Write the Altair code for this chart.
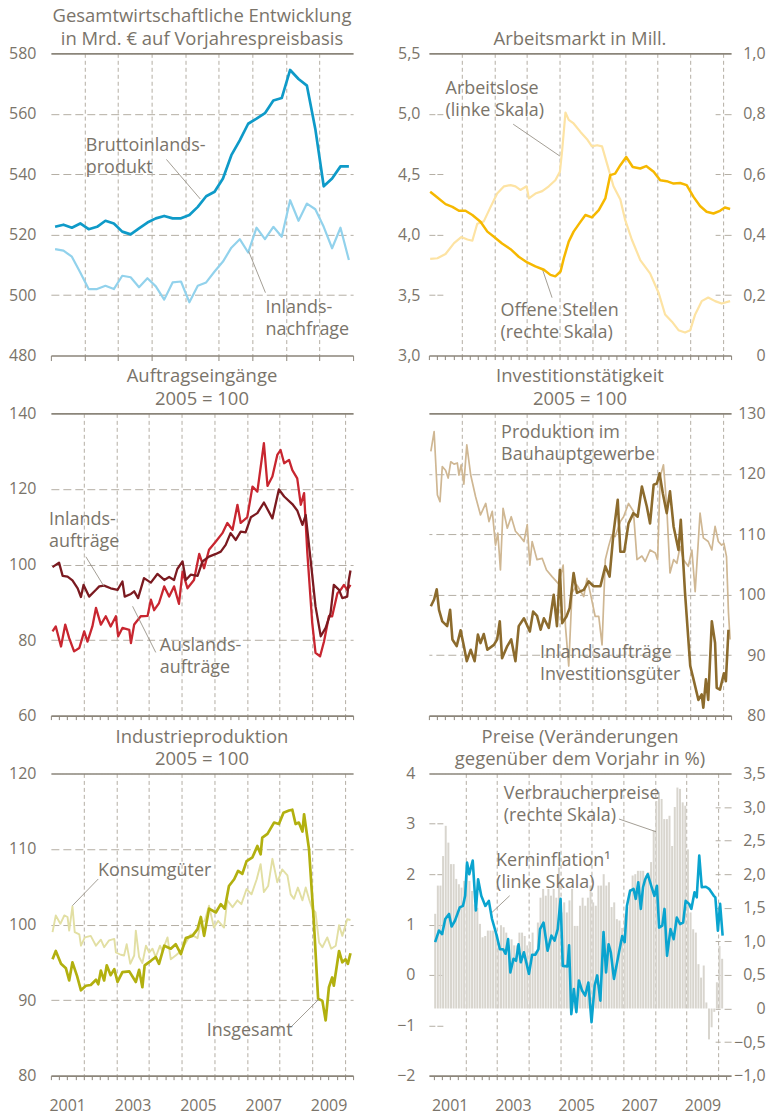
import altair as alt
import pandas as pd

FONT = "Open Sans"
TXT = "#7a746a"
AXC = "#8b857a"
GRIDC = "#b4aea4"
LEAD = "#8b857a"
W, H = 303, 303

C_BIP, C_NF = "#0e9ac8", "#92d2ec"
C_AL, C_OS = "#fde3a3", "#f6b800"
C_IN, C_AUS = "#7b1a20", "#c82630"
C_BAU, C_INV = "#cfb793", "#8c6b2d"
C_INS, C_KON = "#b2b00f", "#e2dfa3"
C_BAR, C_KI = "#d8d5ce", "#0aa4cf"

# ---------------- data ----------------
# Panel 1: quarterly, Mrd. EUR
bip = [522.6, 523.3, 522.3, 523.7, 521.8, 522.6, 524.6, 523.7, 521.0, 520.1,
       522.1, 524.0, 525.4, 526.2, 525.4, 525.4, 526.5, 529.2, 532.7, 534.2,
       538.6, 546.3, 551.2, 556.7, 558.4, 560.2, 564.4, 565.2, 574.5, 571.5,
       569.3, 555.0, 536.0, 538.6, 542.6, 542.6]
nachfrage = [515.2, 514.7, 512.7, 507.5, 502.0, 502.0, 503.1, 502.0, 506.4, 505.9,
             502.6, 505.6, 502.9, 498.5, 504.2, 504.5, 497.6, 503.1, 504.2, 507.8,
             511.1, 515.7, 518.5, 514.1, 522.3, 518.5, 522.6, 519.3, 531.4, 524.6,
             530.3, 528.4, 522.6, 515.5, 522.3, 511.6]
quarters = [2001.125 + 0.25 * i for i in range(36)]

# Panel 2: Arbeitsmarkt
al_t = [2001.04, 2001.26, 2001.51, 2001.77, 2001.99, 2002.18, 2002.33, 2002.48, 2002.68, 2002.89,
        2003.09, 2003.30, 2003.50, 2003.65, 2003.80, 2003.99, 2004.06, 2004.26, 2004.47, 2004.67,
        2004.87, 2005.01, 2005.08, 2005.18, 2005.28, 2005.43, 2005.64, 2005.84, 2005.99, 2006.15,
        2006.30, 2006.45, 2006.65, 2006.86, 2007.01, 2007.21, 2007.47, 2007.77, 2008.03, 2008.23,
        2008.44, 2008.64, 2008.84, 2009.00, 2009.15, 2009.35, 2009.55, 2009.76, 2009.96, 2010.22]
al_v = [3.80, 3.805, 3.84, 3.93, 3.98, 3.96, 3.95, 4.09, 4.11, 4.23,
        4.34, 4.40, 4.41, 4.40, 4.37, 4.40, 4.30, 4.34, 4.36, 4.40,
        4.45, 4.52, 4.70, 5.01, 4.95, 4.92, 4.85, 4.79, 4.73, 4.74,
        4.73, 4.59, 4.40, 4.29, 4.12, 3.96, 3.79, 3.68, 3.52, 3.34,
        3.28, 3.21, 3.19, 3.21, 3.34, 3.45, 3.48, 3.45, 3.43, 3.45]
os_t = [2001.04, 2001.26, 2001.51, 2001.72, 2001.92, 2002.12, 2002.33, 2002.58, 2002.79, 2002.99,
        2003.24, 2003.50, 2003.75, 2004.01, 2004.26, 2004.52, 2004.72, 2004.87, 2005.03, 2005.13,
        2005.28, 2005.43, 2005.59, 2005.79, 2005.99, 2006.20, 2006.40, 2006.55, 2006.70, 2006.86,
        2007.04, 2007.24, 2007.47, 2007.65, 2007.88, 2008.08, 2008.28, 2008.49, 2008.69, 2008.89,
        2009.10, 2009.30, 2009.50, 2009.71, 2009.91, 2010.06, 2010.22]
os_v = [0.542, 0.523, 0.501, 0.492, 0.479, 0.479, 0.465, 0.443, 0.410, 0.393,
        0.371, 0.352, 0.327, 0.308, 0.295, 0.284, 0.267, 0.262, 0.278, 0.322,
        0.377, 0.410, 0.435, 0.465, 0.457, 0.481, 0.520, 0.597, 0.602, 0.630,
        0.657, 0.624, 0.619, 0.627, 0.608, 0.580, 0.577, 0.569, 0.571, 0.564,
        0.525, 0.495, 0.476, 0.470, 0.479, 0.490, 0.485]

# Panel 3: Auftragseingaenge
inl_t = [2001.05, 2001.25, 2001.36, 2001.51, 2001.66, 2001.82, 2001.92, 2002.00, 2002.17, 2002.38,
         2002.48, 2002.63, 2002.83, 2003.04, 2003.19, 2003.26, 2003.45, 2003.55, 2003.67, 2003.85,
         2004.06, 2004.26, 2004.47, 2004.62, 2004.77, 2004.87, 2005.03, 2005.13, 2005.28, 2005.49,
         2005.64, 2005.84, 2006.05, 2006.20, 2006.35, 2006.50, 2006.66, 2006.81, 2006.96, 2007.12,
         2007.32, 2007.52, 2007.78, 2007.98, 2008.14, 2008.39, 2008.54, 2008.70, 2008.80, 2008.95,
         2009.10, 2009.26, 2009.41, 2009.56, 2009.66, 2009.82, 2009.92, 2010.07, 2010.12, 2010.17]
inl_v = [99.3, 100.5, 97.0, 96.8, 95.8, 93.7, 91.4, 94.6, 91.5, 93.3,
         94.2, 94.4, 93.7, 93.3, 95.5, 91.5, 92.2, 92.9, 91.1, 96.4,
         95.2, 97.5, 95.9, 96.7, 95.9, 98.8, 100.8, 95.9, 97.3, 97.0,
         100.8, 102.1, 102.8, 103.4, 105.2, 108.3, 106.5, 108.7, 108.5, 112.5,
         113.6, 116.4, 112.2, 119.9, 118.0, 116.0, 114.3, 110.5, 113.1, 101.2,
         88.9, 81.0, 83.2, 87.1, 94.6, 93.3, 91.1, 91.5, 95.9, 98.4]
aus_t = [2001.05, 2001.15, 2001.31, 2001.44, 2001.56, 2001.71, 2001.87, 2002.02, 2002.12, 2002.27,
         2002.38, 2002.53, 2002.68, 2002.83, 2002.99, 2003.06, 2003.19, 2003.40, 2003.45, 2003.55,
         2003.75, 2003.96, 2004.06, 2004.16, 2004.31, 2004.47, 2004.62, 2004.77, 2004.92, 2005.03,
         2005.18, 2005.38, 2005.54, 2005.69, 2005.84, 2006.05, 2006.25, 2006.40, 2006.56, 2006.71,
         2006.81, 2007.01, 2007.17, 2007.32, 2007.52, 2007.63, 2007.78, 2007.93, 2008.03, 2008.14,
         2008.29, 2008.39, 2008.54, 2008.65, 2008.75, 2008.85, 2009.00, 2009.10, 2009.24, 2009.36,
         2009.51, 2009.61, 2009.77, 2009.87, 2009.97, 2010.07, 2010.17]
aus_v = [82.3, 83.6, 78.3, 84.1, 80.5, 77.0, 77.9, 82.3, 79.6, 83.6,
         88.5, 84.1, 86.3, 83.6, 86.3, 81.0, 83.2, 82.7, 79.2, 84.1,
         86.3, 86.4, 90.7, 87.9, 89.8, 94.2, 91.5, 94.2, 89.6, 98.1,
         93.7, 95.9, 102.8, 99.0, 103.9, 106.1, 108.3, 111.0, 109.2, 115.8,
         111.0, 112.5, 120.6, 119.3, 132.1, 120.8, 123.3, 129.0, 130.3, 126.8,
         127.7, 125.0, 122.8, 115.8, 118.9, 103.0, 84.5, 76.6, 75.7, 79.6,
         86.3, 86.3, 92.4, 93.3, 94.6, 93.3, 94.6]

# Panel 4: Investitionstaetigkeit
bau_t = [2001.06, 2001.16, 2001.26, 2001.34, 2001.41, 2001.51, 2001.59, 2001.67, 2001.77, 2001.87,
         2001.92, 2001.99, 2002.07, 2002.16, 2002.28, 2002.43, 2002.58, 2002.74, 2002.84, 2002.94,
         2003.04, 2003.11, 2003.19, 2003.27, 2003.40, 2003.52, 2003.65, 2003.80, 2003.91, 2004.01,
         2004.09, 2004.16, 2004.31, 2004.47, 2004.60, 2004.77, 2004.97, 2005.11, 2005.18, 2005.28,
         2005.38, 2005.53, 2005.74, 2005.84, 2005.94, 2006.09, 2006.20, 2006.30, 2006.40, 2006.50,
         2006.60, 2006.70, 2006.86, 2006.96, 2007.11, 2007.26, 2007.37, 2007.52, 2007.62, 2007.77,
         2007.93, 2008.00, 2008.08, 2008.18, 2008.28, 2008.38, 2008.49, 2008.59, 2008.69, 2008.79,
         2008.94, 2009.05, 2009.15, 2009.30, 2009.40, 2009.55, 2009.66, 2009.76, 2009.86, 2009.96,
         2010.03, 2010.11, 2010.17, 2010.22]
bau_v = [123.7, 127.0, 116.5, 115.4, 121.2, 120.6, 119.3, 122.0, 121.6, 121.8,
         119.8, 121.5, 118.3, 124.8, 119.8, 116.2, 113.2, 115.1, 112.1, 113.8,
         108.2, 110.2, 104.1, 114.3, 111.0, 112.9, 110.5, 109.6, 108.8, 111.6,
         104.9, 108.8, 105.8, 106.0, 104.1, 103.0, 101.8, 104.9, 94.8, 88.2,
         100.3, 101.6, 99.7, 102.7, 100.3, 96.4, 96.4, 91.7, 105.8, 108.0,
         109.9, 109.6, 112.1, 112.9, 115.1, 113.8, 105.8, 106.4, 105.5, 107.4,
         106.9, 105.8, 119.5, 121.5, 114.6, 103.6, 105.8, 105.2, 108.0, 105.8,
         104.7, 107.4, 100.5, 113.5, 109.4, 108.8, 107.4, 111.3, 108.8, 108.2,
         108.5, 106.3, 97.0, 92.6]
inv_t = [2001.06, 2001.16, 2001.24, 2001.31, 2001.41, 2001.56, 2001.65, 2001.72, 2001.85, 2001.97,
         2002.07, 2002.16, 2002.28, 2002.40, 2002.50, 2002.58, 2002.68, 2002.79, 2002.99, 2003.09,
         2003.17, 2003.24, 2003.40, 2003.52, 2003.65, 2003.75, 2003.91, 2004.09, 2004.19, 2004.31,
         2004.42, 2004.52, 2004.67, 2004.82, 2004.92, 2005.01, 2005.08, 2005.21, 2005.31, 2005.43,
         2005.53, 2005.74, 2005.89, 2006.04, 2006.25, 2006.40, 2006.53, 2006.65, 2006.78, 2006.86,
         2006.98, 2007.11, 2007.26, 2007.39, 2007.52, 2007.67, 2007.77, 2007.88, 2007.98, 2008.06,
         2008.16, 2008.28, 2008.38, 2008.49, 2008.64, 2008.71, 2008.84, 2009.00, 2009.10, 2009.25,
         2009.35, 2009.40, 2009.48, 2009.55, 2009.66, 2009.76, 2009.81, 2009.91, 2010.03, 2010.09,
         2010.17]
inv_v = [98.1, 99.2, 100.9, 97.5, 95.6, 94.8, 97.5, 92.6, 91.5, 94.1,
         91.5, 89.0, 90.9, 89.0, 93.4, 92.0, 93.5, 90.9, 91.7, 92.6,
         95.6, 89.5, 91.5, 92.6, 89.0, 94.8, 96.1, 93.9, 97.2, 96.5,
         94.2, 96.1, 94.5, 100.0, 94.8, 104.1, 95.3, 96.4, 97.8, 103.6,
         100.3, 100.8, 102.2, 101.4, 101.4, 104.7, 103.0, 110.2, 115.7, 107.1,
         107.1, 111.8, 113.5, 112.9, 117.9, 114.6, 111.8, 118.2, 118.4, 120.1,
         116.8, 113.5, 117.1, 111.3, 107.4, 112.4, 100.3, 88.2, 86.0, 82.6,
         83.5, 81.3, 86.0, 82.6, 95.6, 92.0, 84.6, 84.3, 87.0, 85.7,
         94.2]

# Panel 5: Industrieproduktion
ins_t = [2001.05, 2001.15, 2001.31, 2001.46, 2001.56, 2001.66, 2001.80, 2001.92, 2002.07, 2002.22,
         2002.38, 2002.45, 2002.53, 2002.63, 2002.71, 2002.83, 2002.94, 2003.04, 2003.19, 2003.40,
         2003.60, 2003.70, 2003.80, 2003.87, 2004.06, 2004.21, 2004.31, 2004.47, 2004.67, 2004.82,
         2004.98, 2005.13, 2005.33, 2005.49, 2005.59, 2005.69, 2005.84, 2006.05, 2006.20, 2006.32,
         2006.45, 2006.61, 2006.73, 2006.86, 2006.99, 2007.17, 2007.32, 2007.42, 2007.47, 2007.63,
         2007.83, 2007.98, 2008.12, 2008.29, 2008.39, 2008.49, 2008.59, 2008.70, 2008.75, 2008.90,
         2009.05, 2009.18, 2009.31, 2009.41, 2009.51, 2009.61, 2009.66, 2009.82, 2009.92, 2010.02,
         2010.09, 2010.17]
ins_v = [95.4, 96.5, 94.8, 94.2, 92.6, 95.0, 93.2, 91.3, 91.9, 92.0,
         92.7, 92.1, 93.9, 92.6, 94.6, 93.3, 94.1, 92.4, 93.7, 93.8,
         92.4, 94.0, 91.7, 94.6, 95.2, 95.7, 94.8, 97.2, 96.8, 97.4,
         96.1, 98.2, 98.5, 99.4, 101.0, 98.5, 102.1, 101.6, 102.7, 102.1,
         105.1, 106.0, 107.1, 106.7, 108.4, 108.9, 110.4, 109.3, 111.5, 112.0,
         113.5, 113.3, 114.8, 115.1, 115.2, 113.3, 113.5, 112.3, 114.6, 110.0,
         100.3, 90.2, 89.9, 87.3, 91.7, 93.0, 91.9, 96.5, 95.0, 95.4,
         94.8, 96.2]
kon_t = [2001.05, 2001.15, 2001.29, 2001.41, 2001.51, 2001.56, 2001.66, 2001.73, 2001.87, 2001.92,
         2002.04, 2002.22, 2002.38, 2002.53, 2002.63, 2002.78, 2002.94, 2002.99, 2003.14, 2003.24,
         2003.32, 2003.43, 2003.55, 2003.60, 2003.70, 2003.80, 2003.91, 2004.01, 2004.11, 2004.21,
         2004.34, 2004.41, 2004.57, 2004.67, 2004.82, 2004.98, 2005.13, 2005.28, 2005.49, 2005.59,
         2005.71, 2005.84, 2005.99, 2006.12, 2006.30, 2006.40, 2006.56, 2006.71, 2006.83, 2006.99,
         2007.14, 2007.30, 2007.42, 2007.52, 2007.65, 2007.78, 2007.93, 2008.08, 2008.24, 2008.34,
         2008.44, 2008.56, 2008.70, 2008.80, 2008.90, 2009.00, 2009.10, 2009.21, 2009.31, 2009.46,
         2009.58, 2009.72, 2009.82, 2009.92, 2010.07, 2010.17]
kon_v = [99.0, 101.2, 100.1, 101.2, 101.0, 99.2, 102.4, 99.0, 98.7, 97.2,
         98.3, 98.5, 97.2, 98.0, 97.0, 97.9, 98.1, 96.3, 96.0, 95.9,
         97.4, 94.8, 95.9, 99.2, 95.7, 94.9, 97.2, 96.3, 96.8, 95.7,
         97.2, 96.5, 98.3, 95.4, 95.9, 96.5, 97.6, 98.7, 98.2, 100.3,
         100.5, 102.5, 99.6, 100.5, 99.6, 103.2, 102.3, 103.2, 102.7, 104.7,
         104.0, 106.0, 108.0, 104.3, 105.1, 108.7, 105.6, 107.3, 106.5, 104.0,
         103.4, 104.9, 103.2, 104.9, 103.4, 102.1, 101.6, 97.6, 97.0, 98.3,
         96.8, 97.2, 99.9, 98.5, 100.7, 100.6]

# Panel 6: Preise
vpi_monthly = [1.41, 1.83, 1.83, 2.27, 2.72, 2.47, 2.15, 2.15, 1.93, 1.85, 1.80, 1.90,
               2.00, 1.90, 1.75, 1.55, 1.50, 1.26, 1.06, 1.08, 1.16, 1.16, 1.16, 1.12,
               0.94, 1.24, 1.21, 1.13, 0.94, 1.03, 0.94, 0.94, 1.13, 1.13, 1.08, 0.94,
               0.99, 1.13, 0.85, 1.28, 1.65, 1.78, 1.68, 1.78, 1.68, 1.78, 1.65, 2.10,
               1.43, 1.58, 1.43, 1.61, 1.78, 1.23, 1.23, 1.53, 1.65, 1.53, 1.65, 1.83,
               1.58, 1.53, 1.83, 1.83, 2.00, 1.83, 1.88, 1.51, 1.58, 1.33, 1.31, 1.20,
               1.38, 1.51, 1.78, 1.98, 2.00, 2.05, 2.05, 2.05, 1.98, 2.03, 2.18, 2.65,
               3.09, 3.22, 3.12, 2.82, 2.82, 2.87, 2.42, 3.00, 3.29, 3.27, 3.07, 3.02,
               2.37, 1.43, 1.18, 1.13, 0.66, 0.46, 0.64, 0.09, -0.46, -0.28, -0.05, 0.39,
               0.93, 0.74]
vpi_t = [2001 + (m + 0.5) / 12 for m in range(len(vpi_monthly))]
ki_t = [2001.04, 2001.16, 2001.26, 2001.36, 2001.48, 2001.56, 2001.67, 2001.82, 2001.92, 2001.99,
        2002.05, 2002.12, 2002.23, 2002.33, 2002.40, 2002.50, 2002.63, 2002.74, 2002.84, 2002.99,
        2003.09, 2003.19, 2003.27, 2003.35, 2003.42, 2003.52, 2003.60, 2003.68, 2003.75, 2003.85,
        2004.01, 2004.11, 2004.21, 2004.31, 2004.36, 2004.47, 2004.60, 2004.72, 2004.82, 2004.92,
        2005.01, 2005.08, 2005.23, 2005.28, 2005.35, 2005.43, 2005.51, 2005.59, 2005.69, 2005.79,
        2005.89, 2005.99, 2006.09, 2006.17, 2006.27, 2006.37, 2006.45, 2006.53, 2006.60, 2006.70,
        2006.86, 2006.96, 2007.04, 2007.11, 2007.21, 2007.32, 2007.39, 2007.47, 2007.55, 2007.62,
        2007.69, 2007.77, 2007.88, 2007.98, 2008.06, 2008.13, 2008.23, 2008.30, 2008.38, 2008.49,
        2008.59, 2008.69, 2008.79, 2008.89, 2008.97, 2009.08, 2009.15, 2009.25, 2009.32, 2009.40,
        2009.48, 2009.61, 2009.71, 2009.86, 2009.91, 2009.99, 2010.06, 2010.14]
ki_v = [0.65, 0.88, 0.81, 1.11, 1.21, 0.96, 1.08, 1.34, 1.37, 1.57,
        2.23, 2.00, 2.27, 1.28, 1.90, 1.57, 1.37, 1.47, 1.11, 0.78,
        0.51, 0.51, 0.42, 0.71, 0.05, 0.32, 0.28, 0.61, 0.25, 0.45,
        0.02, 0.40, 0.40, 0.51, 0.91, 1.04, 0.48, 0.78, 0.68, 0.91,
        1.51, 0.18, 0.17, 0.59, -0.78, -0.28, -0.74, -0.11, -0.31, -0.41,
        -0.15, -0.94, -0.21, -0.01, -0.51, 0.85, 0.05, 0.61, 0.45, -0.08,
        0.45, 0.77, 0.65, 1.37, 1.67, 1.71, 1.51, 1.84, 1.31, 1.74,
        1.90, 2.00, 1.77, 1.57, 1.77, 0.94, 0.98, 1.31, 0.38, 0.91,
        0.71, 1.14, 1.01, 1.04, 1.47, 1.41, 1.31, 1.64, 1.54, 2.37,
        1.74, 1.75, 1.71, 1.57, 1.54, 0.88, 1.41, 0.78]

# annotation labels (position in data units of each panel)
notes1 = [{"label": "Bruttoinlands-\nprodukt", "t": 2002.04, "v": 547.8},
          {"label": "Inlands-\nnachfrage", "t": 2007.39, "v": 494.2}]
lead1 = [{"t": 2004.44, "v": 544.9, "t2": 2005.45, "v2": 531.8},
         {"t": 2006.89, "v": 514.5, "t2": 2007.39, "v2": 500.8}]
notes2 = [{"label": "Arbeitslose\n(linke Skala)", "t": 2001.51, "v": 5.16},
          {"label": "Offene Stellen\n(rechte Skala)", "t": 2003.19, "v": 3.325}]
lead2 = [{"t": 2003.58, "v": 4.914, "t2": 2005.01, "v2": 4.65},
         {"t": 2004.47, "v": 3.718, "t2": 2004.77, "v2": 3.479}]
notes3 = [{"label": "Inlands-\naufträge", "t": 2000.94, "v": 110.5},
          {"label": "Auslands-\naufträge", "t": 2004.33, "v": 77.06}]
lead3 = [{"t": 2002.07, "v": 102.06, "t2": 2002.63, "v2": 94.14},
         {"t": 2003.50, "v": 88.94, "t2": 2004.21, "v2": 76.72}]
notes4 = [{"label": "Produktion im\nBauhauptgewerbe", "t": 2003.21, "v": 125.87},
          {"label": "Inlandsaufträge\nInvestitionsgüter", "t": 2004.40, "v": 89.57}]
notes5 = [{"label": "Konsumgüter", "t": 2002.44, "v": 106.47},
          {"label": "Insgesamt", "t": 2005.77, "v": 85.3}]
lead5 = [{"t": 2002.45, "v": 106.03, "t2": 2001.66, "v2": 102.5},
         {"t": 2008.34, "v": 86.4, "t2": 2009.21, "v2": 90.15}]
notes6 = [{"label": "Verbraucherpreise\n(rechte Skala)", "t": 2003.21, "v": 3.50},
          {"label": "Kerninflation\u00b9\n(linke Skala)", "t": 2002.97, "v": 2.154}]
lead6 = [{"t": 2006.86, "v": 3.095, "t2": 2008.03, "v2": 2.843},
         {"t": 2003.40, "v": 1.572, "t2": 2002.84, "v2": 1.241}]

XQ = [2001, 2010]
XM = [2001, 2010.25]
RPAD = 34  # right-hand labels are right-aligned
COMMA = "replace(format(datum.value, '.1f'), '.', ',')"
COMMA0 = "datum.value == 0 ? '0' : replace(format(datum.value, '.1f'), '.', ',')"


def sc(domain):
    return alt.Scale(domain=domain, nice=False, zero=False)


def x_axis(kind, labels=False):
    if kind == "year":
        vals = list(range(2001, 2011))
        test = "datum.value > 2001.5 && datum.value < 2009.5"
        tsize = 5
    else:
        vals = [2001 + 0.25 * i for i in range(38)]
        test = "datum.value % 1 == 0 && datum.value > 2001.5"
        tsize = 4
    kw = dict(values=vals, title=None, grid=True, gridColor=GRIDC, gridDash=[4, 3], gridWidth=1,
              gridOpacity={"condition": {"test": test, "value": 1}, "value": 0},
              domain=True, domainColor=AXC, domainWidth=1.6,
              ticks=True, tickColor=AXC, tickSize=tsize, tickWidth=1)
    if labels:
        kw.update(labels=True,
                  labelExpr="abs((datum.value - 2001.5) % 2) < 0.01 ? toString(floor(datum.value)) : ''",
                  labelPadding=18, labelOverlap=False, labelFlush=False, labelBound=False,
                  labelFontSize=16, labelColor=TXT, labelFont=FONT)
    else:
        kw.update(labels=False)
    return alt.Axis(**kw)


def y_axis(vals, orient, pad, top, hide, dash, expr=None, grid=True):
    kw = dict(values=vals, orient=orient, title=None, domain=False, ticks=False, tickSize=0,
              labelPadding=pad, labelFontSize=16, labelColor=TXT, labelFont=FONT, grid=grid)
    if orient == "right":
        kw["labelAlign"] = "right"
    if grid:
        if top is not None:
            t = f"datum.value == {top}"
            kw.update(gridDash={"condition": {"test": t, "value": [1, 0]}, "value": dash},
                      gridColor={"condition": {"test": t, "value": AXC}, "value": GRIDC},
                      gridWidth={"condition": {"test": t, "value": 1.6}, "value": 1})
        else:
            kw.update(gridDash=dash, gridColor=GRIDC, gridWidth=1)
        kw.update(gridOpacity={"condition": {"test": hide, "value": 0}, "value": 1})
    if expr:
        kw["labelExpr"] = expr
    return alt.Axis(**kw)


def enc(chart, xdom, ydom, xax, yax):
    return chart.encode(
        x=alt.X("t:Q", scale=sc(xdom), axis=xax),
        y=alt.Y("v:Q", scale=sc(ydom), axis=yax),
    )


def line_layer(xs, ys, color, width, xdom, ydom, xax, yax):
    assert len(xs) == len(ys)
    df = pd.DataFrame({"t": xs, "v": ys})
    return enc(alt.Chart(df).mark_line(color=color, strokeWidth=width, strokeJoin="round"),
               xdom, ydom, xax, yax)


def text_layer(items, xdom, ydom, xax, yax):
    df = pd.DataFrame(items)
    ch = alt.Chart(df).mark_text(align="left", baseline="alphabetic", lineBreak="\n", lineHeight=22,
                                 fontSize=18, font=FONT, color=TXT)
    return enc(ch, xdom, ydom, xax, yax).encode(text="label:N")


def leader_layer(items, xdom, ydom, xax, yax):
    df = pd.DataFrame(items)
    ch = alt.Chart(df).mark_rule(color=LEAD, strokeWidth=0.8)
    return enc(ch, xdom, ydom, xax, yax).encode(x2="t2:Q", y2="v2:Q")


def ttl(lines):
    return alt.TitleParams(text=lines, anchor="middle", frame="group", offset=-22, fontSize=18.5,
                           font=FONT, color=TXT, fontWeight="normal", lineHeight=22.5,
                           baseline="bottom")


# ---- panel 1
Y1 = [480, 580]
xa1 = x_axis("year")
ya1 = y_axis([480, 500, 520, 540, 560, 580], "left", 15, 580, "datum.value == 480", [8, 4])
p1 = alt.layer(
    line_layer(quarters, nachfrage, C_NF, 2.2, XQ, Y1, xa1, ya1),
    line_layer(quarters, bip, C_BIP, 2.7, XQ, Y1, xa1, ya1),
    leader_layer(lead1, XQ, Y1, xa1, ya1),
    text_layer(notes1, XQ, Y1, xa1, ya1),
).properties(width=W, height=H,
             title=ttl(["Gesamtwirtschaftliche Entwicklung", "in Mrd. € auf Vorjahrespreisbasis"]))

# ---- panel 2
Y2L, Y2R = [3, 5.5], [0, 1]
xa2 = x_axis("m")
ya2l = y_axis([3, 3.5, 4, 4.5, 5, 5.5], "left", 9, 5.5, "datum.value == 3",
              [6, 2, 6, 273, 5, 4, 7, 100], expr=COMMA)
ya2r = y_axis([0, 0.2, 0.4, 0.6, 0.8, 1.0], "right", RPAD, None, "true", [1, 0], expr=COMMA0, grid=False)
p2_left = alt.layer(
    line_layer(al_t, al_v, C_AL, 2.2, XM, Y2L, xa2, ya2l),
    leader_layer(lead2, XM, Y2L, xa2, ya2l),
    text_layer(notes2, XM, Y2L, xa2, ya2l),
)
p2_right = line_layer(os_t, os_v, C_OS, 2.5, XM, Y2R, xa2, ya2r)
p2 = alt.layer(p2_left, p2_right).resolve_scale(y="independent").properties(
    width=W, height=H, title=ttl(["Arbeitsmarkt in Mill."]))

# ---- panel 3
Y3 = [60, 140]
xa3 = x_axis("m")
ya3 = y_axis([60, 80, 100, 120, 140], "left", 15, 140, "datum.value == 60", [8, 4])
p3 = alt.layer(
    line_layer(aus_t, aus_v, C_AUS, 2.3, XM, Y3, xa3, ya3),
    line_layer(inl_t, inl_v, C_IN, 2.3, XM, Y3, xa3, ya3),
    leader_layer(lead3, XM, Y3, xa3, ya3),
    text_layer(notes3, XM, Y3, xa3, ya3),
).properties(width=W, height=H, title=ttl(["Auftragseingänge", "2005 = 100"]))

# ---- panel 4
Y4 = [80, 130]
xa4 = x_axis("m")
ya4 = y_axis([80, 90, 100, 110, 120, 130], "right", RPAD, 130, "datum.value == 80", [8, 4])
p4 = alt.layer(
    line_layer(bau_t, bau_v, C_BAU, 1.7, XM, Y4, xa4, ya4),
    line_layer(inv_t, inv_v, C_INV, 2.6, XM, Y4, xa4, ya4),
    text_layer(notes4, XM, Y4, xa4, ya4),
).properties(width=W, height=H, title=ttl(["Investitionstätigkeit", "2005 = 100"]))

# ---- panel 5
Y5 = [80, 120]
xa5 = x_axis("m", labels=True)
ya5 = y_axis([80, 90, 100, 110, 120], "left", 15, 120, "datum.value == 80", [8, 4])
p5 = alt.layer(
    line_layer(kon_t, kon_v, C_KON, 1.9, XM, Y5, xa5, ya5),
    line_layer(ins_t, ins_v, C_INS, 2.7, XM, Y5, xa5, ya5),
    leader_layer(lead5, XM, Y5, xa5, ya5),
    text_layer(notes5, XM, Y5, xa5, ya5),
).properties(width=W, height=H, title=ttl(["Industrieproduktion", "2005 = 100"]))

# ---- panel 6
Y6L, Y6R = [-2, 4], [-1, 3.5]
xa6 = x_axis("m", labels=True)
ya6r = y_axis([-1, -0.5, 0, 0.5, 1, 1.5, 2, 2.5, 3, 3.5], "right", RPAD, None,
              "datum.value == 3.5 || datum.value == -1", [7, 4, 5, 400], expr=COMMA0)
ya6l = y_axis([-2, -1, 0, 1, 2, 3, 4], "left", 14, 4, "datum.value == -2", [6, 2, 6, 400])
bars = enc(alt.Chart(pd.DataFrame({"t": vpi_t, "v": vpi_monthly})).mark_bar(
    width=2, color=C_BAR, orient="vertical"), XM, Y6R, xa6, ya6r)
p6_left = alt.layer(
    line_layer(ki_t, ki_v, C_KI, 2.6, XM, Y6L, xa6, ya6l),
    leader_layer(lead6, XM, Y6L, xa6, ya6l),
    text_layer(notes6, XM, Y6L, xa6, ya6l),
)
p6 = alt.layer(bars, p6_left).resolve_scale(y="independent").properties(
    width=W, height=H, title=ttl(["Preise (Veränderungen", "gegenüber dem Vorjahr in %)"]))

chart = alt.concat(p1, p2, p3, p4, p5, p6, columns=2,
                   spacing=alt.RowColnumber(row=58, column=76), bounds="flush").properties(
    padding={"left": 0, "top": -3, "right": 0, "bottom": 0},
    background="white",
).configure_view(stroke="transparent")

chart.save("out.html", embed_options={"renderer": "svg", "actions": False})
